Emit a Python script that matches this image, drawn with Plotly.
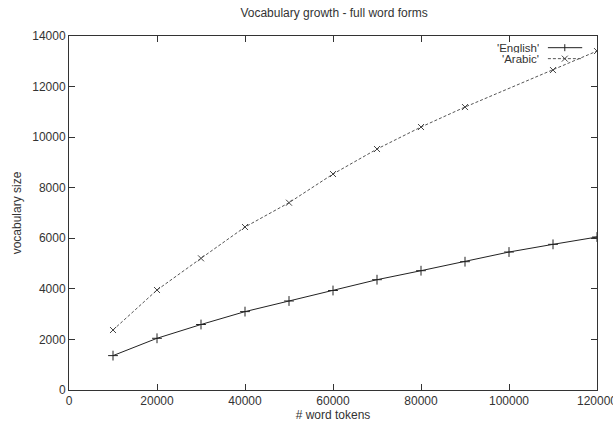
import plotly.graph_objects as go

tokens = [10000, 20000, 30000, 40000, 50000, 60000, 70000, 80000, 90000, 100000, 110000, 120000]
english = [1360, 2045, 2590, 3100, 3520, 3935, 4362, 4718, 5074, 5457, 5760, 6050]
arabic_tokens = [10000, 20000, 30000, 40000, 50000, 60000, 70000, 80000, 90000, 110000, 120000]
arabic = [2372, 3954, 5207, 6445, 7407, 8541, 9530, 10400, 11190, 12653, 13405]

title = "Vocabulary growth - full word forms"
xlabel = "# word tokens"
ylabel = "vocabulary size"
legend_names = ["'English'", "'Arabic'"]

FONT = "Liberation Sans, Arial, sans-serif"
TXT = "#333333"

fig = go.Figure()
fig.add_trace(go.Scatter(
    x=tokens, y=english, mode="lines+markers", name=legend_names[0],
    line=dict(color="#222222", width=1),
    marker=dict(symbol="cross-thin", size=7, line=dict(color="#222222", width=1)),
    showlegend=False))
fig.add_trace(go.Scatter(
    x=arabic_tokens, y=arabic, mode="lines+markers", name=legend_names[1],
    line=dict(color="#555555", width=1, dash="3px,2px"),
    marker=dict(symbol="x-thin", size=6, line=dict(color="#444444", width=1)),
    showlegend=False))

axis_common = dict(
    showline=True, linecolor="#333333", linewidth=1, mirror="ticks",
    ticks="inside", ticklen=6, tickcolor="#333333", tickwidth=1,
    showgrid=False, zeroline=False, ticklabeloverflow="allow",
    tickfont=dict(family=FONT, size=12, color=TXT),
)

fig.update_xaxes(range=[0, 120000], tickvals=[0, 20000, 40000, 60000, 80000, 100000, 120000],
                 ticktext=["0", "20000", "40000", "60000", "80000", "100000", "120000"],
                 title=dict(text=xlabel, font=dict(family=FONT, size=12, color=TXT), standoff=2),
                 automargin=False, **axis_common)
fig.update_yaxes(range=[0, 14000], tickvals=[0, 2000, 4000, 6000, 8000, 10000, 12000, 14000],
                 ticktext=["0", "2000", "4000", "6000", "8000", "10000", "12000", "14000"],
                 title=dict(text=ylabel, font=dict(family=FONT, size=12, color=TXT), standoff=8),
                 automargin=False, **axis_common)

# legend drawn gnuplot-style: label right-aligned, sample to the right
legend_rows = [(0.967, legend_names[0], "#222222", "solid"),
               (0.936, legend_names[1], "#555555", "3px,2px")]
shapes = []
annotations = []
for yy, name, col, dash in legend_rows:
    annotations.append(dict(x=0.894, y=yy, xref="paper", yref="paper", text=name,
                            showarrow=False, xanchor="right", yanchor="middle", height=10,
                            font=dict(family=FONT, size=11.5, color=TXT)))
    shapes.append(dict(type="line", xref="paper", yref="paper", x0=0.907, x1=0.972,
                       y0=yy, y1=yy, line=dict(color=col, width=1, dash=dash)))
# legend sample markers
mx, my = 0.939, [legend_rows[0][0], legend_rows[1][0]]
dy = 3.5 / 354
shapes.append(dict(type="line", xref="paper", yref="paper", x0=mx, x1=mx, y0=my[0] - dy, y1=my[0] + dy,
                   line=dict(color="#222222", width=1)))
shapes.append(dict(type="line", xref="paper", yref="paper", x0=mx - 3 / 528, x1=mx + 3 / 528,
                   y0=my[1] - 3 / 354, y1=my[1] + 3 / 354, line=dict(color="#444444", width=1)))
shapes.append(dict(type="line", xref="paper", yref="paper", x0=mx - 3 / 528, x1=mx + 3 / 528,
                   y0=my[1] + 3 / 354, y1=my[1] - 3 / 354, line=dict(color="#444444", width=1)))

fig.update_layout(
    width=613, height=425,
    margin=dict(l=69, r=16, t=36, b=35),
    paper_bgcolor="white", plot_bgcolor="white",
    title=dict(text=title, x=0.545, xanchor="center", y=0.97, yanchor="middle",
               font=dict(family=FONT, size=12, color=TXT)),
    shapes=shapes, annotations=annotations,
    showlegend=False,
)

fig.write_html("out.html", config={"displayModeBar": False},
               post_script="document.body.style.margin='0';")
